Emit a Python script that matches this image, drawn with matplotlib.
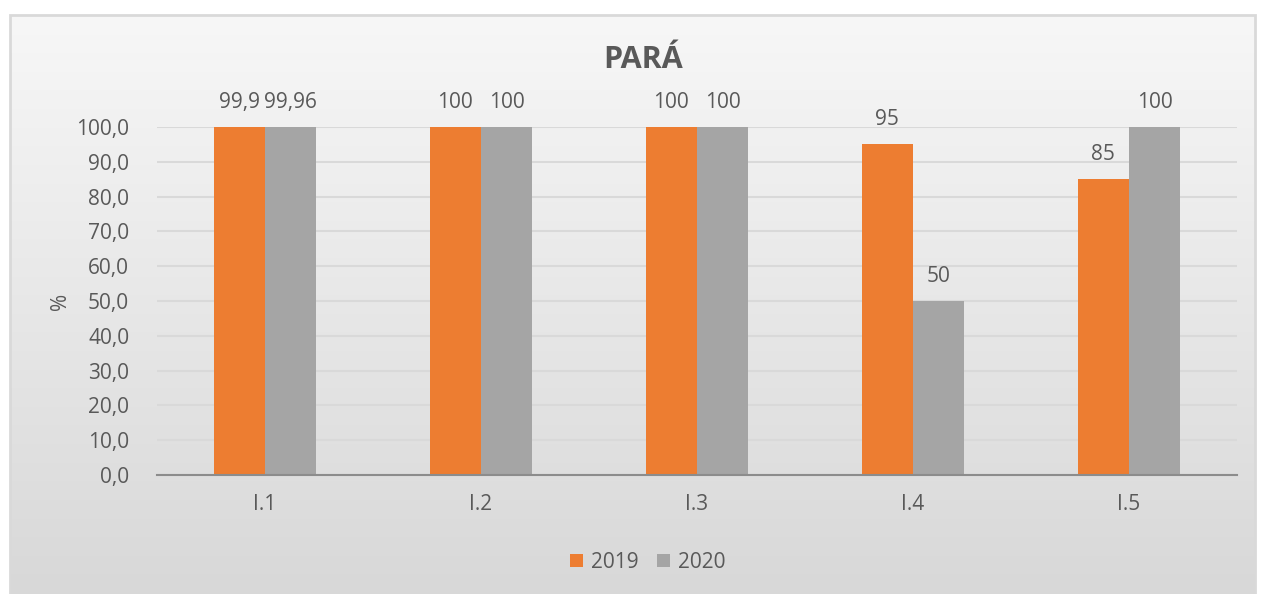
import numpy as np
from matplotlib import pyplot as plt
from matplotlib.patches import Rectangle
from matplotlib.colors import LinearSegmentedColormap

categories = ["I.1", "I.2", "I.3", "I.4", "I.5"]
vals_2019 = [99.9, 100, 100, 95, 85]
vals_2020 = [99.96, 100, 100, 50, 100]
series_names = ["2019", "2020"]
yticks = [0, 10, 20, 30, 40, 50, 60, 70, 80, 90, 100]

orange = "#ED7D31"
gray = "#A5A5A5"
txt = "#595959"
fs = 15

plt.rcParams['font.family'] = ['Open Sans', 'DejaVu Sans']

fig = plt.figure(figsize=(12.65, 5.94), dpi=100)

# background gradient panel (light on top, darker at the bottom)
bg = fig.add_axes([10 / 1265, 0, 1245 / 1265, 579 / 594], zorder=-10)
grad = np.linspace(0, 1, 256).reshape(-1, 1)
bg.imshow(grad, aspect='auto', origin='upper', extent=[0, 1, 0, 1],
          cmap=LinearSegmentedColormap.from_list("bg", ["#f7f7f7", "#d8d8d8"]))
bg.set_xlim(0, 1)
bg.set_ylim(0, 1)
bg.axis('off')
fig.patches.append(Rectangle((10 / 1265, 0), 1245 / 1265, 579 / 594, transform=fig.transFigure,
                             fill=False, edgecolor="#d9d9d9", linewidth=2, zorder=-5))

ax = fig.add_axes([157 / 1265, 119 / 594, 1080 / 1265, 348 / 594])
ax.patch.set_alpha(0)

x = np.arange(len(categories))
w = 0.237
b1 = ax.bar(x - w / 2, vals_2019, w, color=orange, label=series_names[0], zorder=3, clip_on=False)
b2 = ax.bar(x + w / 2, vals_2020, w, color=gray, label=series_names[1], zorder=3, clip_on=False)

for bars, vals in [(b1, vals_2019), (b2, vals_2020)]:
    for r, v in zip(bars, vals):
        ax.annotate(f"{v:g}".replace('.', ','), (r.get_x() + r.get_width() / 2, v),
                    xytext=(0, 18), textcoords="offset points", ha='center', va='center',
                    fontsize=fs, color=txt)

ax.set_xlim(-0.5, len(categories) - 0.5)
ax.set_ylim(0, 100)
ax.set_yticks(yticks)
ax.set_yticklabels([f"{t:.1f}".replace('.', ',') for t in yticks])
ax.set_xticks(x)
ax.set_xticklabels(categories)
ax.tick_params(length=0, labelsize=fs, labelcolor=txt)
ax.tick_params(axis='x', pad=14)
ax.tick_params(axis='y', pad=20)
ax.grid(axis='y', color="#d9d9d9", linewidth=1.5, zorder=0)
for s in ["top", "right", "left"]:
    ax.spines[s].set_visible(False)
ax.spines["bottom"].set_color("#8c8c8c")
ax.spines["bottom"].set_linewidth(1.5)
ax.spines["bottom"].set_zorder(4)

ax.set_ylabel("%", fontsize=fs, color=txt)
ax.yaxis.set_label_coords(-86 / 1080, 0.5)

fig.text(643 / 1265, 1 - 60 / 594, "PARÁ", ha='center', va='center', fontsize=22,
         fontweight='bold', color=txt)

fig.legend(loc='center', bbox_to_anchor=(648 / 1265, 1 - 562 / 594), ncol=2, frameon=False,
           fontsize=fs, handlelength=0.6, handleheight=0.6, handletextpad=0.4,
           columnspacing=0.9, labelcolor=txt)

fig.savefig("out.png", dpi=100)
